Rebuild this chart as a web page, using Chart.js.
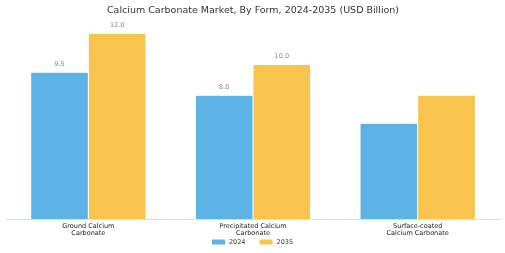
<!DOCTYPE html>
<html>
<head>
<meta charset="utf-8">
<script src="https://cdn.jsdelivr.net/npm/chart.js@4"></script>
<style>
  html, body { margin: 0; padding: 0; background: #fff; }
  #wrap { width: 505px; height: 253px; }
</style>
</head>
<body>
<div id="wrap"><canvas id="chart"></canvas></div>
<script>
// Chart data
const categories = [['Ground Calcium', 'Carbonate'], ['Precipitated Calcium', 'Carbonate'], ['Surface-coated', 'Calcium Carbonate']];
const values2024 = [9.5, 8.0, 6.2];
const values2035 = [12.0, 10.0, 8.0];
// value labels shown above bars (null = no label)
const labels2024 = ['9.5', '8.0', null];
const labels2035 = ['12.0', '10.0', null];

const FONT = 'DejaVu Sans';

// Draw value text above selected bars
const valueLabels = {
    id: 'valueLabels',
    afterDatasetsDraw(chart) {
        const ctx = chart.ctx;
        const sets = [labels2024, labels2035];
        ctx.save();
        ctx.font = '6.5px "' + FONT + '"';
        ctx.fillStyle = '#888';
        ctx.textAlign = 'center';
        ctx.textBaseline = 'bottom';
        sets.forEach((lbls, di) => {
            chart.getDatasetMeta(di).data.forEach((bar, i) => {
                if (lbls[i] == null) return;
                ctx.fillText(lbls[i], bar.x, bar.y - 5);
            });
        });
        ctx.restore();
    }
};

// Small legend under the axis labels (built-in one can't sit this close)
const bottomLegend = {
    id: 'bottomLegend',
    afterDraw(chart) {
        const ctx = chart.ctx;
        const boxW = 13, boxH = 5, gap = 4, spacing = 14;
        const y = chart.height - 11;
        ctx.save();
        ctx.font = '6.5px "' + FONT + '"';
        const items = chart.data.datasets.map(ds => ({
            text: ds.label, color: ds.backgroundColor, w: ctx.measureText(ds.label).width
        }));
        const total = items.reduce((s, it) => s + boxW + gap + it.w, 0) + spacing * (items.length - 1);
        let x = (chart.width - total) / 2;
        ctx.textBaseline = 'middle';
        ctx.textAlign = 'left';
        items.forEach(it => {
            ctx.fillStyle = it.color;
            ctx.fillRect(x, y - boxH / 2, boxW, boxH);
            x += boxW + gap;
            ctx.fillStyle = '#333';
            ctx.fillText(it.text, x, y);
            x += it.w + spacing;
        });
        ctx.restore();
    }
};

new Chart(document.getElementById('chart'), {
    type: 'bar',
    data: {
        labels: categories,
        datasets: [
            {
                label: '2024',
                data: values2024,
                backgroundColor: '#5DB3E6',
                borderColor: '#ffffff',
                borderWidth: 0.5,
            },
            {
                label: '2035',
                data: values2035,
                backgroundColor: '#F9C44E',
                borderColor: '#ffffff',
                borderWidth: 0.5,
            }
        ]
    },
    options: {
        responsive: true,
        maintainAspectRatio: false,
        animation: false,
        layout: { padding: { left: 6, right: 5, top: 0, bottom: 14 } },
        datasets: { bar: { categoryPercentage: 0.7, barPercentage: 1.0 } },
        plugins: {
            title: {
                display: true,
                text: 'Calcium Carbonate Market, By Form, 2024-2035 (USD Billion)',
                color: '#333',
                font: { family: FONT, size: 9.5, weight: 'normal' },
                padding: { top: 5, bottom: 4 }
            },
            legend: { display: false },
            tooltip: { enabled: false }
        },
        scales: {
            x: {
                grid: { display: false, drawTicks: false },
                border: { display: true, color: '#ddd', width: 1 },
                ticks: {
                    color: '#222',
                    font: { family: FONT, size: 6.5, lineHeight: 1.2 },
                    padding: 3,
                    maxRotation: 0
                },
                afterFit(scale) { scale.height = 20; }
            },
            y: {
                display: false,
                min: 0,
                max: 12.85
            }
        }
    },
    plugins: [valueLabels, bottomLegend]
});
</script>
</body>
</html>
